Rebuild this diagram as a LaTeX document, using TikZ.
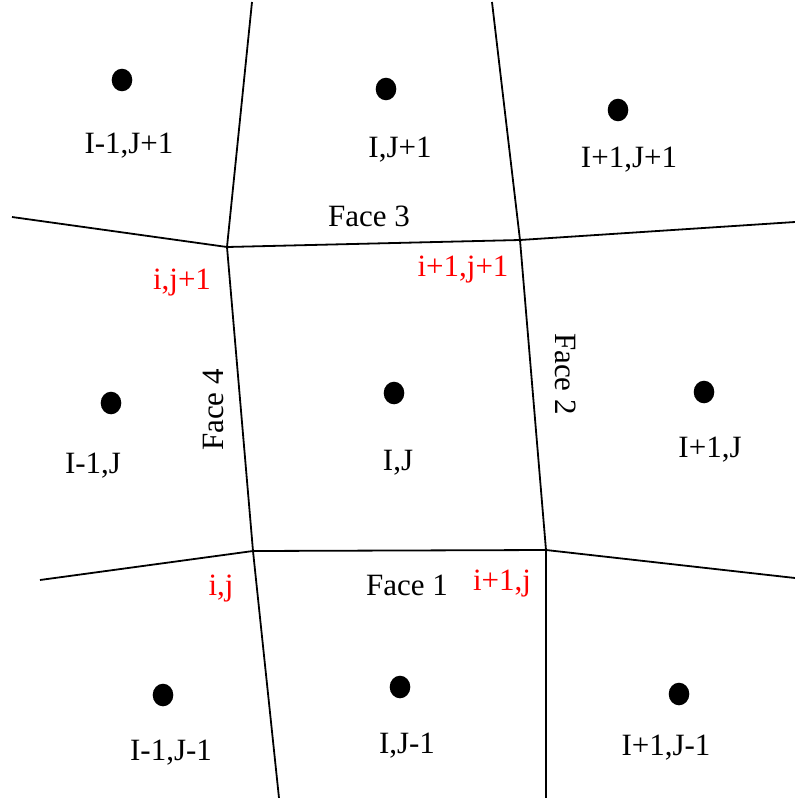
\documentclass[tikz,border=0pt]{standalone}
\usepackage{fontspec}
\setmainfont{Liberation Serif}
\usetikzlibrary{shapes.geometric}
\begin{document}
\begin{tikzpicture}[x=1pt,y=-1pt,
  lbl/.style={anchor=base, inner sep=0pt, font=\fontsize{31}{31}\selectfont},
  redlbl/.style={lbl, text=red},
  cellpt/.style={ellipse, fill=black, draw=none, inner sep=0pt, minimum width=20.6pt, minimum height=22.6pt},
  gridline/.style={line width=1.8pt, line join=round}]
\useasboundingbox (0,0) rectangle (795,798);
% grid vertices
\coordinate (L0) at (252,2);
\coordinate (L1) at (227,247);
\coordinate (L2) at (253,551);
\coordinate (L3) at (279,798);
\coordinate (R0) at (492,2);
\coordinate (R1) at (520,240);
\coordinate (R2) at (546,550);
\coordinate (R3) at (546,798);
\coordinate (T0) at (12,217);
\coordinate (T3) at (795,222);
\coordinate (B0) at (40,580);
\coordinate (B3) at (795,578);
% grid lines
\draw[gridline] (L0) -- (L1) -- (L2) -- (L3);
\draw[gridline] (R0) -- (R1) -- (R2) -- (R3);
\draw[gridline] (T0) -- (L1) -- (R1) -- (T3);
\draw[gridline] (B0) -- (L2) -- (R2) -- (B3);
% cell centres
\node[cellpt] (c11) at (122,80) {};
\node[cellpt] (c21) at (386,89) {};
\node[cellpt] (c31) at (618,110) {};
\node[cellpt] (c12) at (111,403) {};
\node[cellpt] (c22) at (394,393) {};
\node[cellpt] (c32) at (704,392) {};
\node[cellpt] (c13) at (163,695) {};
\node[cellpt] (c23) at (400,687) {};
\node[cellpt] (c33) at (679,694) {};
% cell labels
\node[lbl] (t11) at (129,153) {I-1,J+1};
\node[lbl] (t21) at (400,157) {I,J+1};
\node[lbl] (t31) at (629,167) {I+1,J+1};
\node[lbl] (t12) at (93,473) {I-1,J};
\node[lbl] (t22) at (398,470) {I,J};
\node[lbl] (t32) at (710,457) {I+1,J};
\node[lbl] (t13) at (171,760) {I-1,J-1};
\node[lbl] (t23) at (407,753) {I,J-1};
\node[lbl] (t33) at (666,755) {I+1,J-1};
% faces
\node[lbl] (f1) at (407,595) {Face 1};
\node[lbl, rotate=-90] (f2) at (555,374) {Face 2};
\node[lbl] (f3) at (369,226) {Face 3};
\node[lbl, rotate=90] (f4) at (223,410) {Face 4};
% vertex labels
\node[redlbl] (v1) at (221,595) {i,j};
\node[redlbl] (v2) at (502,590) {i+1,j};
\node[redlbl] (v3) at (463,276) {i+1,j+1};
\node[redlbl] (v4) at (182,289) {i,j+1};
\end{tikzpicture}
\end{document}
